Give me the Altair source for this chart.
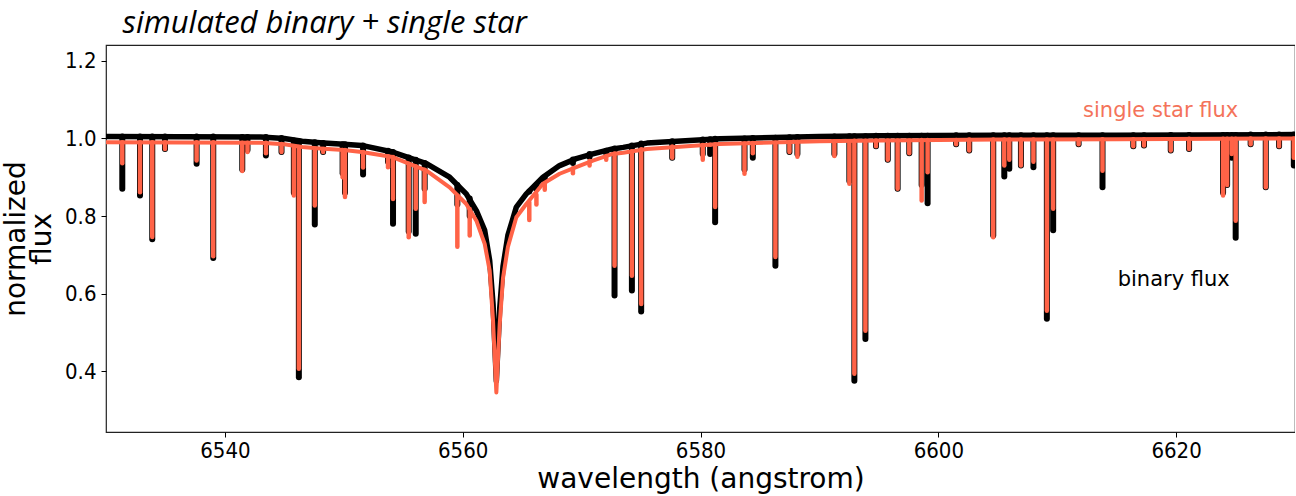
import altair as alt
import pandas as pd

# ---- continuum / broad profile ----
cont_wl = [6530.0, 6543.0, 6545.0, 6546.5, 6548.0, 6550.0, 6551.5, 6554.1, 6556.95, 6558.9,
           6560.3, 6561.15, 6561.85, 6562.27, 6562.55, 6562.83, 6563.11, 6563.39,
           6563.8, 6564.51, 6565.35, 6566.75, 6568.15, 6569.55, 6570.95, 6572.6,
           6573.5, 6575.5, 6581.6, 6590.0, 6595.0, 6605.0, 6615.0, 6630.0]
cont_binary = [1.005, 1.004, 1.000, 0.993, 0.989, 0.985, 0.982, 0.965, 0.935, 0.900,
               0.857, 0.814, 0.763, 0.685, 0.574, 0.375, 0.560, 0.670,
               0.750, 0.823, 0.857, 0.900, 0.930, 0.948, 0.960, 0.973,
               0.977, 0.988, 0.999, 1.005, 1.007, 1.008, 1.008, 1.010]
cont_single = [0.990, 0.989, 0.985, 0.978, 0.974, 0.970, 0.965, 0.952, 0.917, 0.874,
               0.831, 0.788, 0.728, 0.659, 0.530, 0.345, 0.520, 0.640,
               0.720, 0.797, 0.831, 0.883, 0.909, 0.926, 0.943, 0.960,
               0.963, 0.973, 0.986, 0.993, 0.995, 0.997, 0.998, 1.000]

# ---- narrow absorption lines ----
line_wl = [6531.37, 6532.86, 6533.89, 6534.96, 6537.62, 6539.02, 6541.46, 6541.90,
           6543.45, 6544.76, 6545.80, 6546.22, 6547.56, 6548.26, 6549.90, 6550.10,
           6551.62, 6553.72, 6554.14, 6555.46, 6556.05, 6556.80, 6559.55, 6560.59,
           6565.60, 6566.20, 6566.90, 6569.27, 6570.67, 6572.07,
           6572.77, 6574.23, 6575.01, 6577.62, 6580.19, 6580.81, 6581.23,
           6583.70, 6584.40, 6586.30, 6587.48, 6588.15, 6591.26, 6592.52, 6592.94,
           6593.87, 6594.76, 6595.75, 6596.58, 6597.56, 6598.60, 6599.10, 6601.50,
           6602.60, 6604.62, 6605.55, 6605.97, 6606.95, 6608.00, 6609.13, 6609.66,
           6611.80, 6613.81, 6616.40, 6617.30, 6619.55, 6621.09, 6623.95, 6624.29,
           6624.68, 6625.01, 6626.27, 6627.54, 6628.66, 6629.90]
line_binary_depth = [0.870, 0.853, 0.740, 0.973, 0.935, 0.692, 0.920, 0.970,
                     0.956, 0.965, 0.860, 0.384, 0.778, 0.965, 0.910, 0.860,
                     0.907, 0.940, 0.780, 0.760, 0.754, 0.870, 0.830, 0.800,
                     0.863, 0.870, 0.890, 0.937, 0.952, 0.962,
                     0.595, 0.608, 0.554, 0.950, 0.960, 0.960, 0.784,
                     0.920, 0.950, 0.672, 0.965, 0.960, 0.960, 0.890, 0.375,
                     0.483, 0.980, 0.945, 0.870, 0.962, 0.880, 0.833, 0.985,
                     0.969, 0.750, 0.902, 0.922, 0.930, 0.926, 0.535, 0.763,
                     0.985, 0.874, 0.980, 0.982, 0.969, 0.973, 0.860, 0.880,
                     0.950, 0.744, 0.985, 0.874, 0.980, 0.930]
line_single_depth = [0.936, 0.861, 0.746, 0.973, 0.943, 0.696, 0.916, 0.965,
                     0.962, 0.965, 0.853, 0.406, 0.827, 0.965, 0.900, 0.849,
                     0.925, 0.926, 0.844, 0.745, 0.819, 0.836, 0.721, 0.750,
                     0.790, 0.830, 0.868, 0.910, 0.930, 0.945,
                     0.672, 0.646, 0.573, 0.950, 0.945, 0.984, 0.823,
                     0.909, 0.962, 0.694, 0.965, 0.953, 0.955, 0.883, 0.393,
                     0.504, 0.980, 0.945, 0.870, 0.962, 0.840, 0.913, 0.985,
                     0.969, 0.745, 0.930, 0.945, 0.930, 0.940, 0.556, 0.819,
                     0.985, 0.917, 0.980, 0.982, 0.969, 0.973, 0.853, 0.880,
                     0.960, 0.788, 0.985, 0.874, 0.980, 0.950]
line_binary_cont = [1.005, 1.005, 1.005, 1.005, 1.005, 1.005, 1.004, 1.004,
                    1.004, 1.001, 0.995, 0.993, 0.990, 0.988, 0.985, 0.985,
                    0.982, 0.968, 0.965, 0.951, 0.945, 0.937, 0.880, 0.845,
                    0.863, 0.880, 0.900, 0.946, 0.960, 0.968,
                    0.974, 0.982, 0.987, 0.993, 0.997, 0.998, 0.999,
                    1.000, 1.001, 1.002, 1.003, 1.004, 1.005, 1.006, 1.006,
                    1.006, 1.007, 1.007, 1.007, 1.007, 1.007, 1.007, 1.008,
                    1.008, 1.008, 1.008, 1.008, 1.008, 1.008, 1.008, 1.008,
                    1.008, 1.008, 1.008, 1.008, 1.009, 1.009, 1.009, 1.009,
                    1.009, 1.009, 1.010, 1.010, 1.010, 1.010]
line_single_cont = [0.990, 0.990, 0.990, 0.990, 0.990, 0.990, 0.989, 0.989,
                    0.989, 0.986, 0.980, 0.978, 0.974, 0.973, 0.970, 0.970,
                    0.965, 0.954, 0.952, 0.935, 0.928, 0.919, 0.852, 0.818,
                    0.836, 0.855, 0.883, 0.923, 0.942, 0.955,
                    0.961, 0.967, 0.972, 0.979, 0.983, 0.984, 0.985,
                    0.987, 0.988, 0.989, 0.990, 0.991, 0.993, 0.993, 0.994,
                    0.994, 0.995, 0.995, 0.995, 0.995, 0.996, 0.996, 0.996,
                    0.997, 0.997, 0.997, 0.997, 0.997, 0.997, 0.997, 0.997,
                    0.997, 0.998, 0.998, 0.998, 0.998, 0.999, 0.999, 0.999,
                    0.999, 0.999, 1.000, 1.000, 1.000, 1.000]

x_ticks = [6540, 6560, 6580, 6600, 6620]
y_ticks = [0.4, 0.6, 0.8, 1.0, 1.2]

ann_text = ["single star flux", "binary flux"]
ann_wl = [6618.7, 6619.8]
ann_flux = [1.07, 0.636]
ann_color = ["#f4735a", "black"]

cont = pd.DataFrame({"wl": cont_wl, "binary": cont_binary, "single": cont_single})
lines = pd.DataFrame({"wl": line_wl, "b_depth": line_binary_depth, "s_depth": line_single_depth,
                      "b_cont": line_binary_cont, "s_cont": line_single_cont})
ann = pd.DataFrame({"text": ann_text, "wl": ann_wl, "flux": ann_flux, "color": ann_color})

TICK_FONT = "DejaVu Sans Condensed, DejaVu Sans"
xscale = alt.Scale(domain=[6530, 6630], nice=False, zero=False)
yscale = alt.Scale(domain=[0.243, 1.241], nice=False, zero=False)
xaxis = alt.Axis(values=x_ticks, format="d", title="wavelength (angstrom)", grid=False,
                 domain=False, tickSize=5, tickColor="black", labelFont=TICK_FONT,
                 labelFontSize=22, labelColor="black", labelPadding=3,
                 titleFont="DejaVu Sans", titleFontSize=28, titleFontWeight="normal",
                 titleColor="black", titlePadding=4)
yaxis = alt.Axis(values=y_ticks, format=".1f", title=["normalized", "flux"], grid=False,
                 domain=False, tickSize=5, tickColor="black", labelFont=TICK_FONT,
                 labelFontSize=22, labelColor="black", labelPadding=5,
                 titleFont="DejaVu Sans", titleFontSize=28, titleFontWeight="normal",
                 titleColor="black", titlePadding=8, titleLineHeight=26)


def X(f):
    return alt.X(f"{f}:Q", scale=xscale, axis=xaxis)


def Y(f):
    return alt.Y(f"{f}:Q", scale=yscale, axis=yaxis)


TOMATO = "#ff6347"
black_cont = alt.Chart(cont).mark_line(color="black", strokeWidth=5.5, strokeJoin="round",
                                       strokeCap="round", clip=True).encode(x=X("wl"), y=Y("binary"))
black_lines = alt.Chart(lines).mark_rule(color="black", strokeWidth=6, strokeCap="round",
                                         clip=True).encode(x=X("wl"), y=Y("b_cont"), y2="b_depth")
orange_cont = alt.Chart(cont).mark_line(color=TOMATO, strokeWidth=4, strokeJoin="round",
                                        strokeCap="round", clip=True).encode(x=X("wl"), y=Y("single"))
orange_lines = alt.Chart(lines).mark_rule(color=TOMATO, strokeWidth=4.5, strokeCap="round",
                                          clip=True).encode(x=X("wl"), y=Y("s_cont"), y2="s_depth")
labels = alt.Chart(ann).mark_text(fontSize=21, font="DejaVu Sans", align="center",
                                  baseline="middle").encode(
    x=X("wl"), y=Y("flux"), text="text:N", color=alt.Color("color:N", scale=None))

chart = alt.layer(black_cont, black_lines, orange_cont, orange_lines, labels).properties(
    width=1189, height=387,
    title=alt.TitleParams("simulated binary + single star", anchor="start", fontStyle="italic",
                          fontWeight="normal", font="Open Sans", fontSize=31, color="black",
                          baseline="bottom", offset=5, dx=120, dy=31),
    autosize=alt.AutoSizeParams(type="none"),
    padding={"left": 106, "top": 45, "right": 0, "bottom": 64},
).configure_view(stroke="#222", strokeWidth=1.2)

chart.save("out.html", embed_options={"renderer": "svg", "actions": False})
